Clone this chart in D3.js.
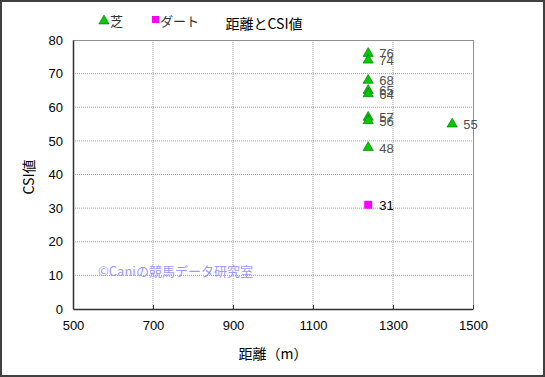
<!DOCTYPE html>
<html><head><meta charset="utf-8">
<script src="https://cdn.jsdelivr.net/npm/d3@7"></script>
<style>body{margin:0;background:#fff}svg{display:block}text{font-family:"Noto Sans CJK JP","Liberation Sans",sans-serif}</style>
</head><body><svg id="c" width="545" height="377"></svg>
<script>
// points are drawn slightly right of the gridlines in the reference picture
const turfDist = [1238,1238,1238,1238,1238,1238,1238,1238,1448];
const turfCSI  = [76,74,68,65,64,57,56,48,55];
const dirtDist = [1238];
const dirtCSI  = [31];
const xTicks = [500,700,900,1100,1300,1500];
const yTicks = [0,10,20,30,40,50,60,70,80];

const svg = d3.select("#c");
svg.append("rect").attr("x",1).attr("y",1).attr("width",543).attr("height",375).attr("fill","#fff").attr("stroke","#404040").attr("stroke-width",2);
const L=73,R=473,T=40,B=309;
const x=d3.scaleLinear().domain([500,1500]).range([L,R]);
const y=d3.scaleLinear().domain([0,80]).range([B,T]);
const g=svg.append("g");
g.selectAll(".gx").data(xTicks.slice(1,-1)).join("line").attr("x1",d=>x(d)).attr("x2",d=>x(d)).attr("y1",T).attr("y2",B).attr("stroke","#a0a0a0").attr("stroke-dasharray","1,1");
g.selectAll(".gy").data(yTicks.slice(1,-1)).join("line").attr("y1",d=>y(d)).attr("y2",d=>y(d)).attr("x1",L).attr("x2",R).attr("stroke","#a0a0a0").attr("stroke-dasharray","1,1");
g.append("line").attr("x1",L).attr("x2",R).attr("y1",T+0.5).attr("y2",T+0.5).attr("stroke","#909090");
g.append("line").attr("x1",R+0.5).attr("x2",R+0.5).attr("y1",T).attr("y2",B).attr("stroke","#909090");
const xa=svg.append("g").attr("transform",`translate(0,${B})`).call(d3.axisBottom(x).tickValues(xTicks).tickFormat(d3.format("d")).tickSize(4).tickSizeOuter(0).tickPadding(8));
const ya=svg.append("g").attr("transform",`translate(${L},0)`).call(d3.axisLeft(y).tickValues(yTicks).tickSize(0).tickPadding(10));
[xa,ya].forEach(a=>{a.selectAll("path").attr("stroke","#303030").attr("stroke-width",1.5);a.selectAll("line").attr("stroke","#303030");a.selectAll("text").attr("font-size",13).attr("fill","#000").style("font-family","'Liberation Sans',sans-serif");});
xa.selectAll(".tick line").attr("y2",-4);
svg.append("text").attr("x",264).attr("y",29).attr("text-anchor","middle").attr("font-size",14).text("距離とCSI値");
svg.append("text").attr("x",273).attr("y",359).attr("text-anchor","middle").attr("font-size",14).text("距離（m）");
svg.append("text").attr("transform","translate(34,177) rotate(-90)").attr("text-anchor","middle").attr("font-size",14).text("CSI値");
svg.append("text").attr("x",98).attr("y",276).attr("font-size",13).attr("fill","#9999ff").text("©Caniの競馬データ研究室");
const tri=d3.symbol().type(d3.symbolTriangle).size(45);
svg.append("path").attr("d",tri).attr("transform","translate(104,21)").attr("fill","#00cc00").attr("stroke","#006600").attr("stroke-width",0.6);
svg.append("text").attr("x",110).attr("y",26).attr("font-size",13).attr("fill","#333").text("芝");
svg.append("rect").attr("x",152).attr("y",16).attr("width",7).attr("height",7).attr("fill","#ff00ff");
svg.append("text").attr("x",160).attr("y",26).attr("font-size",13).attr("fill","#333").text("ダート");
const turf=turfDist.map((d,i)=>({d,v:turfCSI[i]}));
svg.selectAll(".t").data(turf).join("path").attr("d",tri).attr("transform",d=>`translate(${x(d.d)},${y(d.v)})`).attr("fill","#00cc00").attr("stroke","#006600").attr("stroke-width",0.6);
svg.selectAll(".tl").data(turf).join("text").attr("x",d=>x(d.d)+11).attr("y",d=>y(d.v)+5).attr("font-size",13).attr("fill","#505050").style("font-family","'Liberation Sans',sans-serif").text(d=>d.v);
const dirt=dirtDist.map((d,i)=>({d,v:dirtCSI[i]}));
svg.selectAll(".d").data(dirt).join("rect").attr("x",d=>x(d.d)-4).attr("y",d=>y(d.v)-4).attr("width",8).attr("height",8).attr("fill","#ff00ff");
svg.selectAll(".dl").data(dirt).join("text").attr("x",d=>x(d.d)+11).attr("y",d=>y(d.v)+5).attr("font-size",13).attr("fill","#000").style("font-family","'Liberation Sans',sans-serif").text(d=>d.v);
</script></body></html>
